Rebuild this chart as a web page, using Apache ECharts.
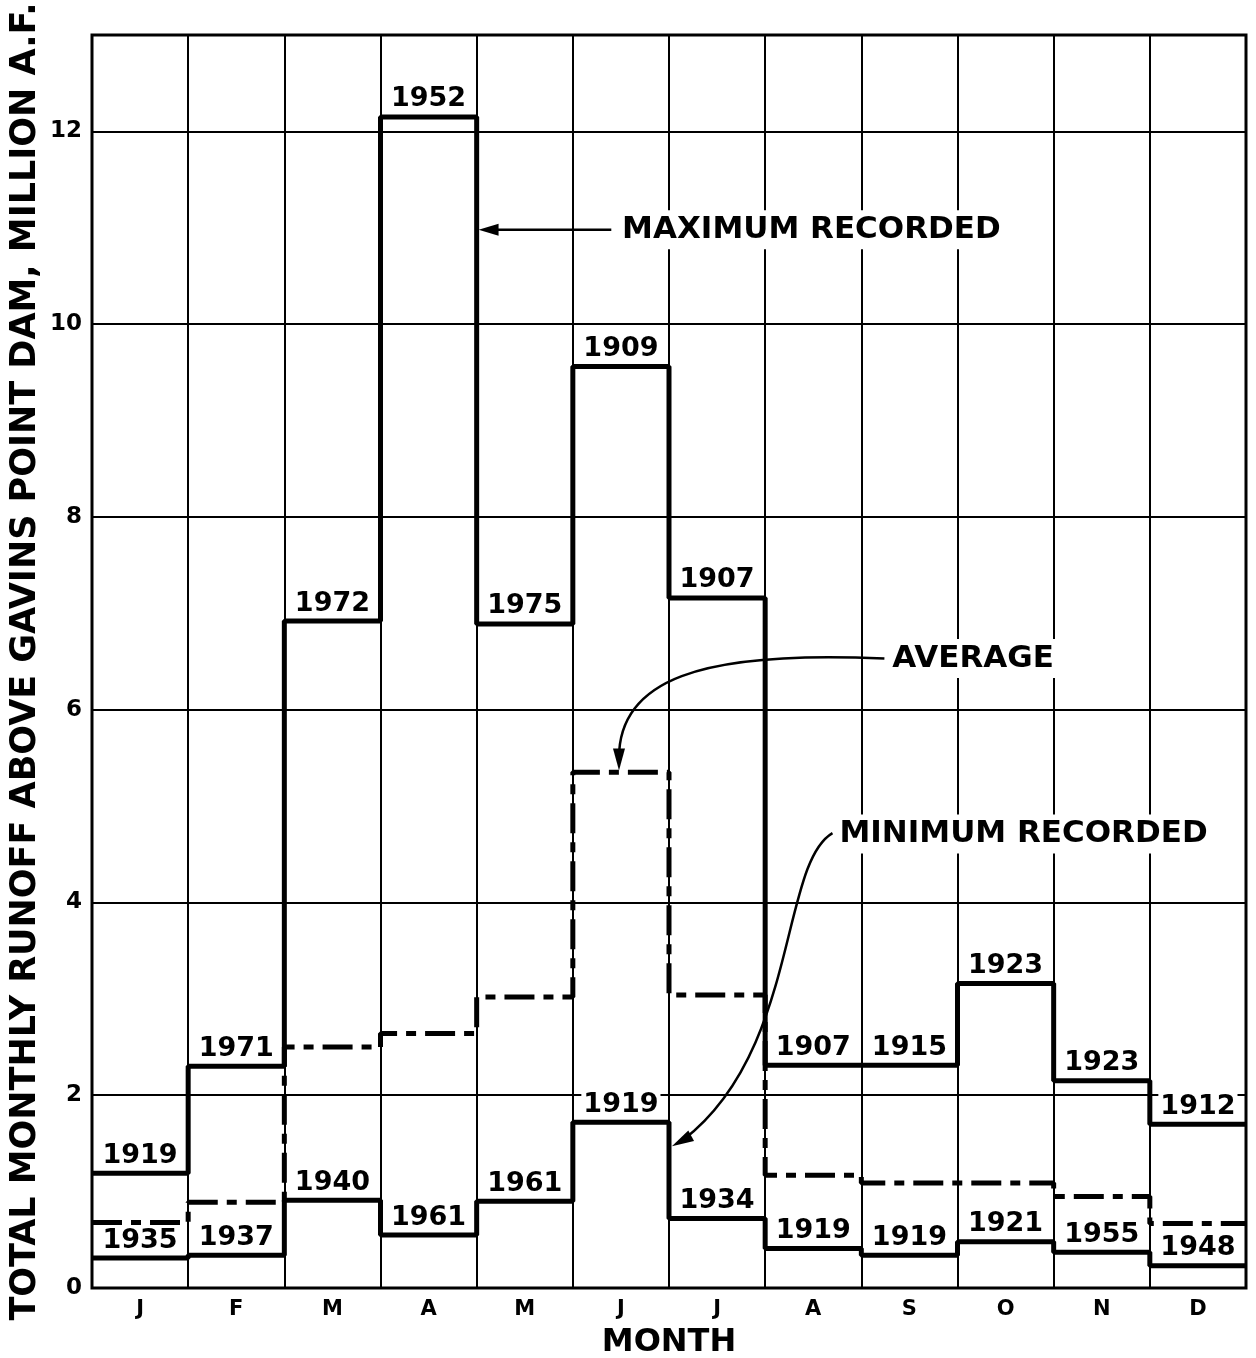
<!DOCTYPE html>
<html><head><meta charset="utf-8">
<script src="https://cdn.jsdelivr.net/npm/echarts@6/dist/echarts.min.js"></script>
<style>html,body{margin:0;padding:0;background:#fff}#c{width:1256px;height:1358px}</style>
</head><body><div id="c"></div>
<script>
const months = ['J','F','M','A','M','J','J','A','S','O','N','D'];
const yTicks = [0, 2, 4, 6, 8, 10, 12];
const maxVals  = [1.19, 2.30, 6.92, 12.15, 6.89, 9.56, 7.16, 2.31, 2.31, 3.16, 2.15, 1.70];
const maxYears = ['1919','1971','1972','1952','1975','1909','1907','1907','1915','1923','1923','1912'];
const avgVals  = [0.68, 0.89, 2.50, 2.64, 3.02, 5.35, 3.04, 1.17, 1.09, 1.09, 0.95, 0.67];
const minVals  = [0.31, 0.34, 0.91, 0.55, 0.90, 1.72, 0.72, 0.41, 0.34, 0.48, 0.37, 0.23];
const minYears = ['1935','1937','1940','1961','1961','1919','1934','1919','1919','1921','1955','1948'];

const FONT = 'DejaVu Sans';
function stepData(vals){ const d = vals.map((v,i)=>[i,v]); d.push([vals.length, vals[vals.length-1]]); return d; }
function labelData(vals, years){ return vals.map((v,i)=>({value:[i+0.5, v], year: years[i]})); }

const chart = echarts.init(document.getElementById('c'), null, {renderer:'canvas'});
const lineW = 5;
const yearLabel = {show:true, position:'top', distance:4, formatter:p=>p.data.year, color:'#000', opacity:1, fontFamily:FONT,
  fontSize:27, fontWeight:'bold', backgroundColor:'#fff', padding:[0,2,0,2]};
chart.setOption({
  animation:false,
  backgroundColor:'#fff',
  grid:{left:92, right:10, top:35, bottom:70, outerBoundsMode:'none', containLabel:false,
        show:true, borderColor:'#000', borderWidth:3, backgroundColor:'transparent'},
  xAxis:[
    {type:'value', min:0, max:12, interval:1, axisLine:{show:false}, axisTick:{show:false}, axisLabel:{show:false},
     splitLine:{show:true, lineStyle:{color:'#000', width:2}}},
    {type:'category', data:months, position:'bottom', boundaryGap:true, axisLine:{show:false}, axisTick:{show:false},
     splitLine:{show:false},
     axisLabel:{color:'#000', fontFamily:FONT, fontSize:21, fontWeight:'bold', margin:11},
     name:'MONTH', nameLocation:'middle', nameGap:39, nameTextStyle:{color:'#000', fontFamily:FONT, fontSize:32, fontWeight:'bold'}}
  ],
  yAxis:{type:'value', min:0, max:13, interval:2, axisLine:{show:false}, axisTick:{show:false},
    axisLabel:{color:'#000', fontFamily:FONT, fontSize:23, fontWeight:'bold', margin:10, showMaxLabel:false,
      formatter: v => yTicks.indexOf(v) >= 0 ? String(v) : ''},
    splitLine:{show:true, lineStyle:{color:'#000', width:2}},
    name:'TOTAL MONTHLY RUNOFF ABOVE GAVINS POINT DAM, MILLION A.F.', nameLocation:'middle', nameGap:49,
    nameMoveOverlap:false,
    nameTextStyle:{color:'#000', fontFamily:FONT, fontSize:35, fontWeight:'bold'}},
  series:[
    {type:'line', name:'avg', step:'end', data:stepData(avgVals), symbol:'none', xAxisIndex:0,
     lineStyle:{color:'#000', width:lineW, type:[30,9,10,9]}, z:3},
    {type:'line', name:'max', step:'end', data:stepData(maxVals), symbol:'none', xAxisIndex:0,
     lineStyle:{color:'#000', width:lineW}, z:4},
    {type:'line', name:'min', step:'end', data:stepData(minVals), symbol:'none', xAxisIndex:0,
     lineStyle:{color:'#000', width:lineW}, z:4},
    {type:'scatter', data:labelData(maxVals, maxYears), symbolSize:0, xAxisIndex:0, z:5,
     itemStyle:{color:'#000', opacity:1}, label:yearLabel},
    {type:'scatter', data:labelData(minVals, minYears), symbolSize:0, xAxisIndex:0, z:5,
     itemStyle:{color:'#000', opacity:1}, label:yearLabel}
  ]
});

// annotations positioned in data space
const P = (x,y) => chart.convertToPixel({xAxisIndex:0, yAxisIndex:0}, [x,y]);
function arrowHead(tip, from, len, half){
  const dx = tip[0]-from[0], dy = tip[1]-from[1], L = Math.hypot(dx,dy);
  const ux = dx/L, uy = dy/L;
  const bx = tip[0]-ux*len, by = tip[1]-uy*len;
  return {type:'polygon', z:20, shape:{points:[tip,[bx-uy*half, by+ux*half],[bx+uy*half, by-ux*half]]}, style:{fill:'#000'}};
}
const txtStyle = (t)=>({text:t, fill:'#000', font:'bold 31px "DejaVu Sans"', backgroundColor:'#fff', padding:[4,6], verticalAlign:'middle'});

const g = [];
// MAXIMUM RECORDED
const mT = P(5.45, 10.98), mS = P(5.40, 10.98), mE = P(4.02, 10.98);
g.push({type:'text', x:mT[0], y:mT[1], z:20, style:txtStyle('MAXIMUM RECORDED')});
g.push({type:'line', z:20, shape:{x1:mS[0], y1:mS[1], x2:mE[0]+16, y2:mE[1]}, style:{stroke:'#000', lineWidth:2.5}});
g.push(arrowHead(mE, [mE[0]+10, mE[1]], 20, 6));
// AVERAGE
const aT = P(8.26, 6.53);
g.push({type:'text', x:aT[0], y:aT[1], z:20, style:txtStyle('AVERAGE')});
const a0 = P(8.24, 6.53), a1 = P(6.3, 6.62), a2 = P(5.48, 6.3), a3 = P(5.48, 5.5), aTip = P(5.48, 5.37);
g.push({type:'bezierCurve', z:20, shape:{x1:a0[0], y1:a0[1], cpx1:a1[0], cpy1:a1[1], cpx2:a2[0], cpy2:a2[1], x2:a3[0], y2:a3[1]}, style:{stroke:'#000', lineWidth:2.5, fill:null}});
g.push(arrowHead(aTip, a3, 22, 6));
// MINIMUM RECORDED
const nT = P(7.71, 4.71);
g.push({type:'text', x:nT[0], y:nT[1], z:20, style:txtStyle('MINIMUM RECORDED')});
const n0 = P(7.70, 4.72), n1 = P(7.15, 4.4), n2 = P(7.35, 2.45), n3 = P(6.14, 1.53), nTip = P(6.03, 1.47);
g.push({type:'bezierCurve', z:20, shape:{x1:n0[0], y1:n0[1], cpx1:n1[0], cpy1:n1[1], cpx2:n2[0], cpy2:n2[1], x2:n3[0], y2:n3[1]}, style:{stroke:'#000', lineWidth:2.5, fill:null}});
g.push(arrowHead(nTip, n3, 22, 6));
chart.setOption({graphic:g});
</script></body></html>
